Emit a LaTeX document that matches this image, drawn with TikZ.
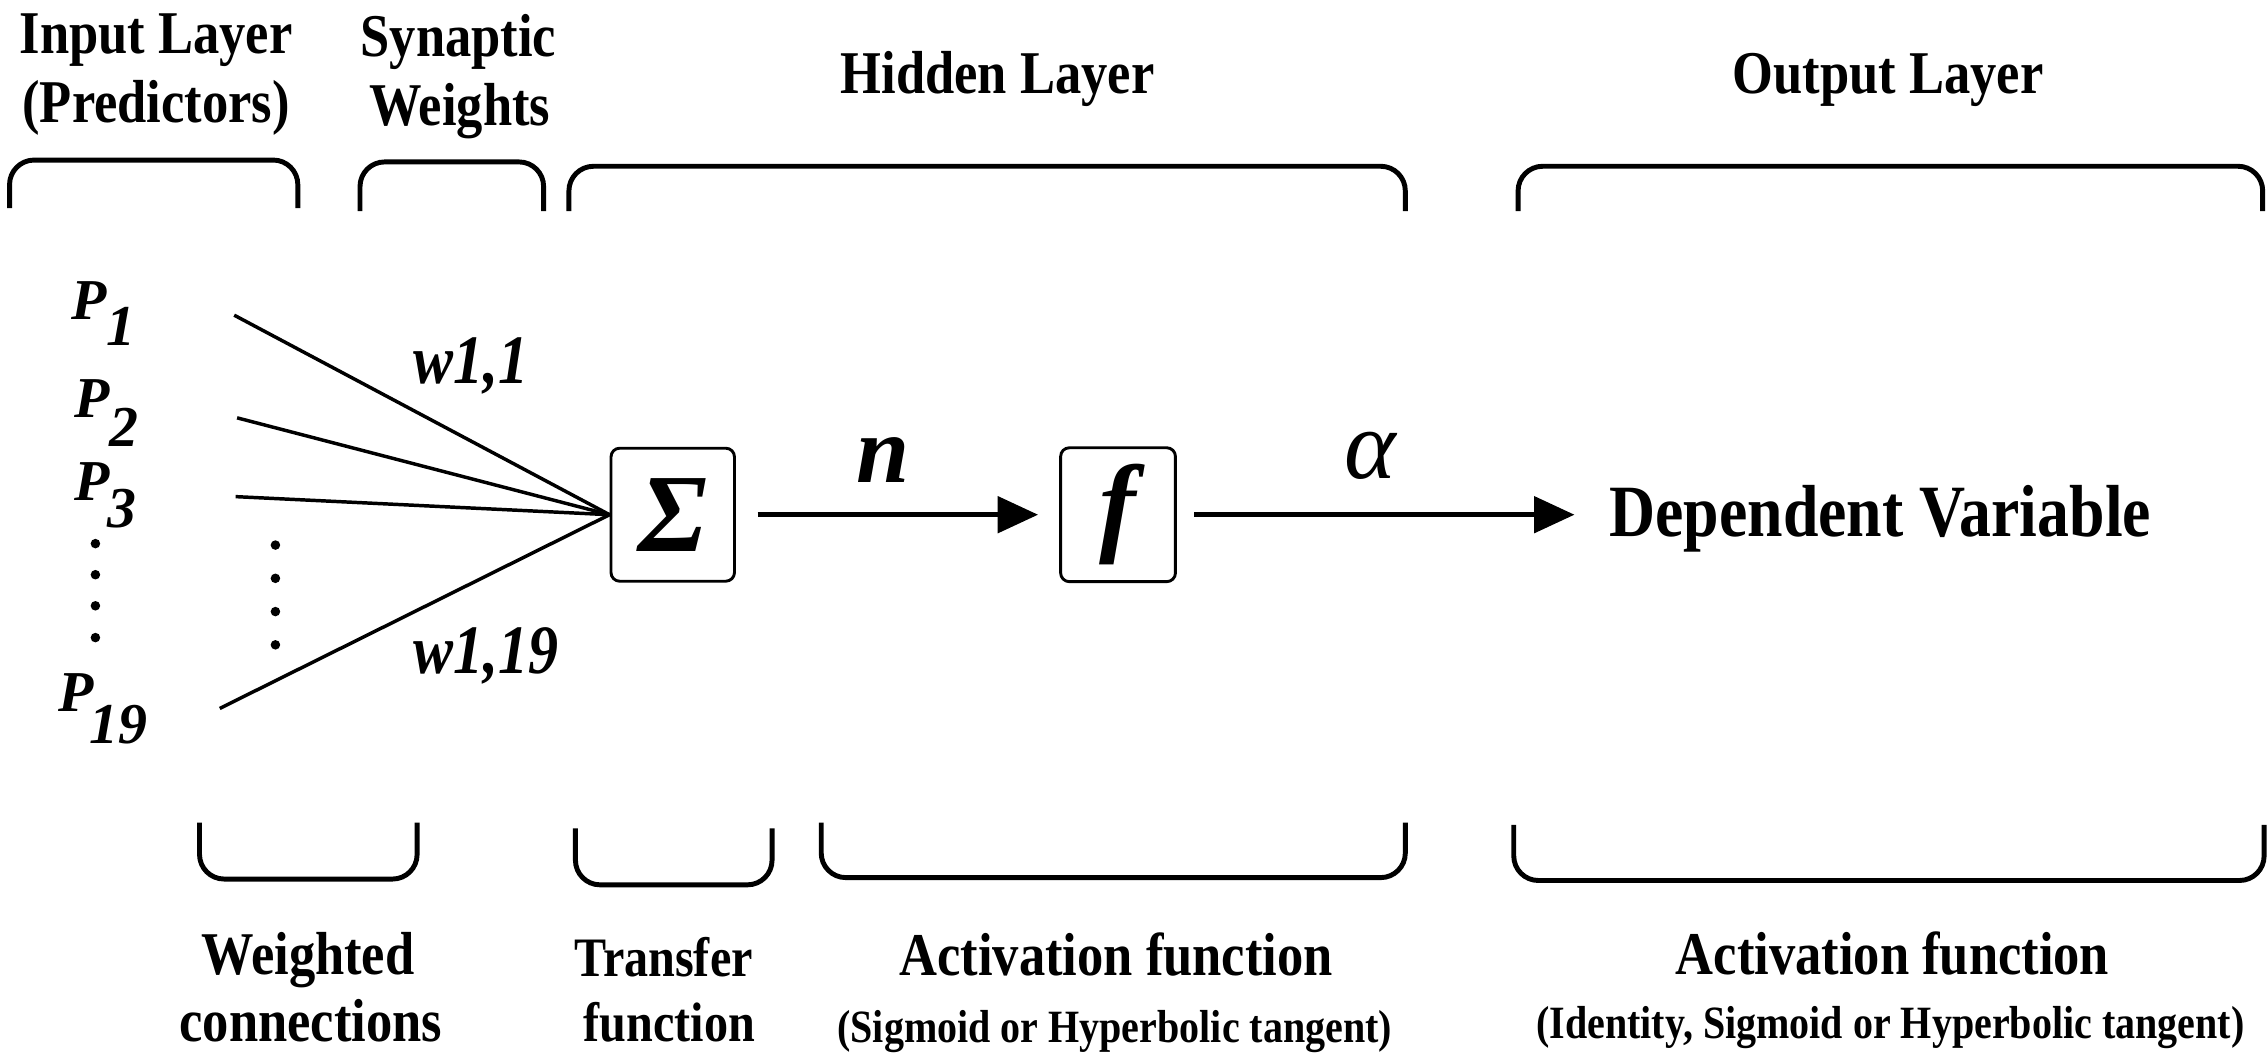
\documentclass[tikz,border=0pt]{standalone}
\usepackage{fontspec}
\setmainfont{Liberation Serif}
\newfontfamily\labfont[FakeStretch=0.865]{Liberation Serif}
\newfontfamily\symfont{Liberation Serif}
\usetikzlibrary{arrows.meta}

\begin{document}
\begin{tikzpicture}[x=1pt,y=-1pt,
  brace/.style={line width=3.4pt, rounded corners=17pt},
  fan/.style={line width=2.4pt},
  flow/.style={line width=3.4pt, -{Triangle[length=28pt,width=25pt]}},
  opbox/.style={draw, line width=2pt, rounded corners=6pt, inner sep=0pt},
  head/.style={font=\labfont\bfseries\fontsize{42}{47.5}\selectfont, inner sep=0pt, anchor=base},
  midlab/.style={font=\labfont\bfseries\fontsize{38.5}{44}\selectfont, inner sep=0pt, anchor=base},
  sublab/.style={font=\labfont\bfseries\fontsize{32}{36}\selectfont, inner sep=0pt, anchor=base},
  biglab/.style={font=\labfont\bfseries\fontsize{51}{56}\selectfont, inner sep=0pt, anchor=base west},
  pred/.style={font=\symfont\bfseries\itshape\fontsize{40}{40}\selectfont, inner sep=0pt, anchor=base west},
  wlab/.style={font=\labfont\bfseries\itshape\fontsize{48}{48}\selectfont, inner sep=0pt, anchor=base west},
  sig/.style={font=\symfont\bfseries\itshape\fontsize{66}{66}\selectfont, inner sep=0pt}
]
\useasboundingbox (0,0) rectangle (1568,728);

% layer titles
\node[head] (inA)  at (108,37)   {Input Layer};
\node[head] (inB)  at (108,84.5) {(Predictors)};
\node[head] (synA) at (317,39)   {Synaptic};
\node[head] (synB) at (318,86.5) {Weights};
\node[head] (hid)  at (690,64.5) {Hidden Layer};
\node[head] (outl) at (1306,64.5) {Output Layer};

% upper brackets
\draw[brace] (6.6,144) |- (206,110.7) -- (206,144);
\draw[brace] (249,146) |- (376,112) -- (376,146);
\draw[brace] (393.5,146) |- (972,115) -- (972,146);
\draw[brace] (1050,146) |- (1565,115) -- (1565,146);

% lower brackets
\draw[brace] (138,569) |- (288.5,608) -- (288.5,569);
\draw[brace] (398,573) |- (534,612) -- (534,573);
\draw[brace] (568,569) |- (972,607) -- (972,569);
\draw[brace] (1047,570.6) |- (1566,609) -- (1566,570.6);

% function descriptions
\node[head]   (wA)    at (213,674)   {Weighted};
\node[head]   (wB)    at (215,720.5) {connections};
\node[midlab] (tA)    at (459,675.5) {Transfer};
\node[midlab] (tB)    at (463,720.5) {function};
\node[head]   (actH)  at (772,675)   {Activation function};
\node[sublab] (actHs) at (771,721)   {(Sigmoid or Hyperbolic tangent)};
\node[head]   (actO)  at (1309,674)  {Activation function};
\node[sublab] (actOs) at (1307.5,718) {(Identity, Sigmoid or Hyperbolic tangent)};

% predictors
\node[pred] (p1)  at (49,221)   {P\raisebox{-18pt}{1}};
\node[pred] (p2)  at (51,289)   {P\raisebox{-20pt}{2}};
\node[pred] (p3)  at (51,346)   {P\kern-1pt\raisebox{-19pt}{3}};
\node[pred] (p19) at (40.6,492) {P\kern-3pt\raisebox{-22pt}{19}};
\foreach \yy in {376,397.5,419,441} \fill (66,\yy) circle (3.3pt);

% summation and activation units
\node[opbox, minimum width=85.4pt, minimum height=92pt] (sigma) at (465.3,356)
  {\symfont\bfseries\itshape\fontsize{77}{77}\selectfont Σ};
\node[opbox, minimum width=79.4pt, minimum height=92.6pt] (fbox) at (773.3,356)
  {\symfont\bfseries\itshape\fontsize{76}{76}\selectfont f};
\node[biglab] (dv) at (1113,371) {Dependent Variable};

% weighted connections
\coordinate (c1)  at (162,218);
\coordinate (c2)  at (164,289);
\coordinate (c3)  at (163,343.5);
\coordinate (c19) at (152,490);
\draw[fan] (c1) -- (sigma.west);
\draw[fan] (c2) -- (sigma.west);
\draw[fan] (c3) -- (sigma.west);
\draw[fan] (c19) -- (sigma.west);
\foreach \yy in {377,400,423,446} \fill (190.5,\yy) circle (3.3pt);
\node[wlab] (w1) at (286,265)   {w1,1};
\node[wlab] (w19) at (286,465.5) {w1,19};

% signal flow
\draw[flow, shorten <=15pt, shorten >=14.6pt] (sigma.east) -- (fbox.west);
\draw[flow, shorten <=12pt, shorten >=24pt] (fbox.east) -- (fbox.east -| dv.west);
\node[sig] (nlab) at (611,318) {n};
\node[font=\symfont\itshape\fontsize{68}{68}\selectfont, inner sep=0pt] (alab) at (948,315) {α};
\end{tikzpicture}
\end{document}
